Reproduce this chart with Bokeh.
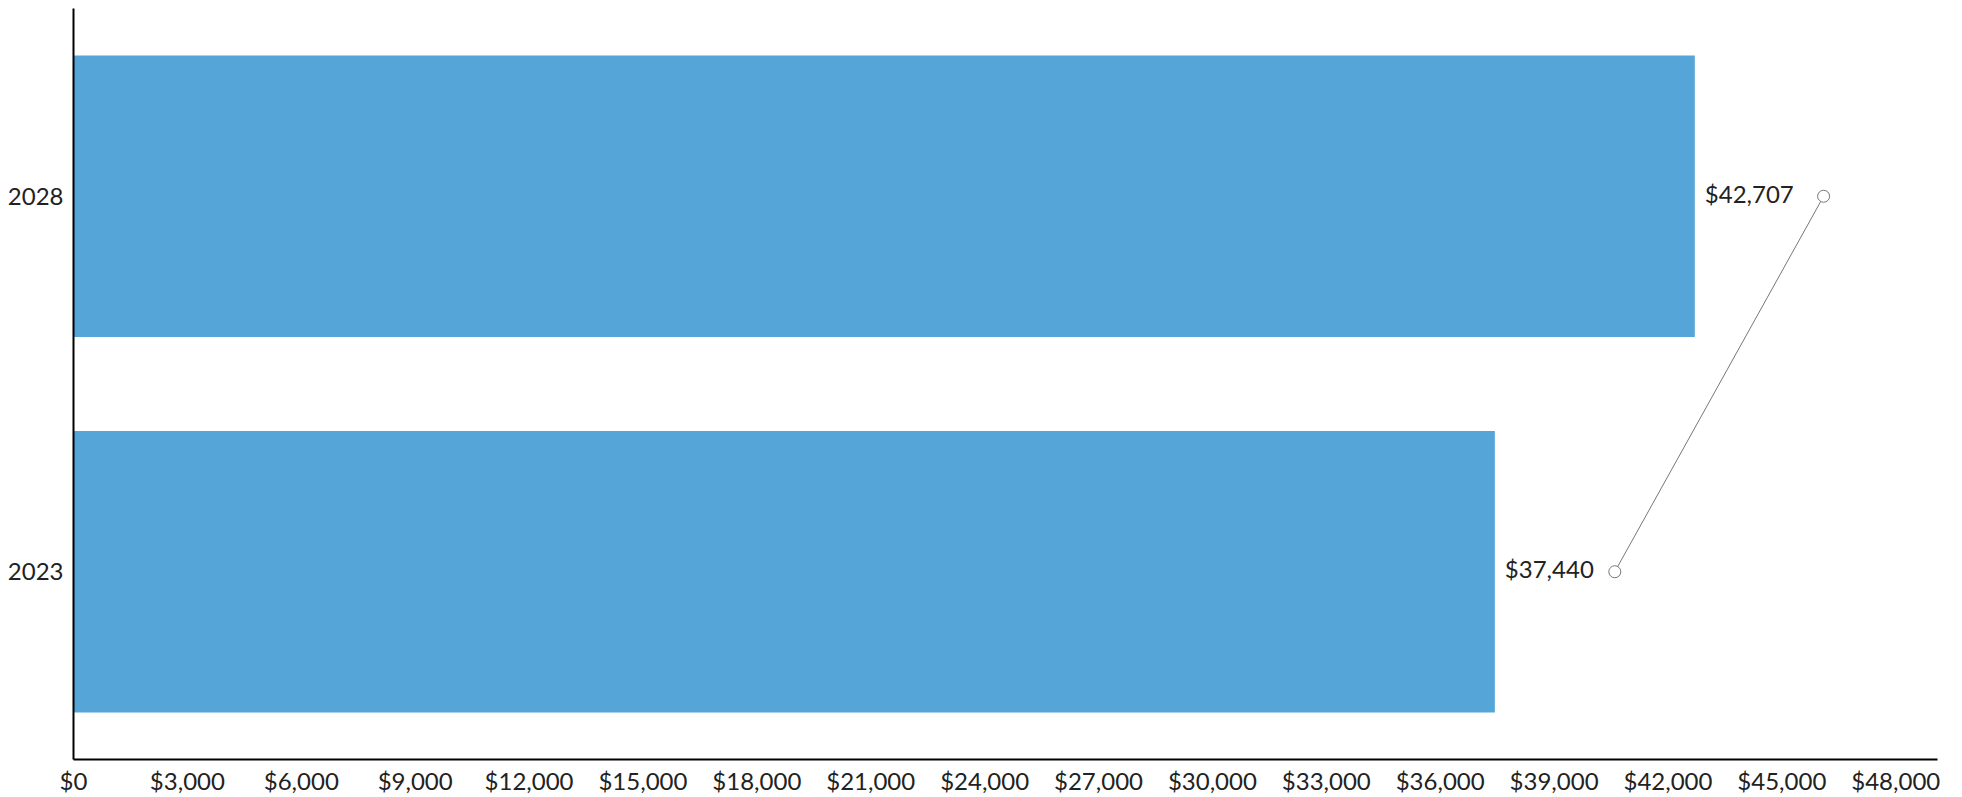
from bokeh.plotting import figure
from bokeh.models import Range1d, FactorRange, NumeralTickFormatter, FixedTicker, ColumnDataSource
from bokeh.core.properties import value
from bokeh.embed import file_html
from bokeh.resources import INLINE

years = ["2023", "2028"]
values = [37440, 42707]
labels = ["$37,440", "$42,707"]
connector_x = [40600, 46100]
x_ticks = [0, 3000, 6000, 9000, 12000, 15000, 18000, 21000, 24000, 27000, 30000, 33000, 36000, 39000, 42000, 45000, 48000]
x_max = 49100

FONT = "Lato"
TXT = "#222222"

p = figure(width=1954, height=797, output_backend="svg", toolbar_location=None,
           x_range=Range1d(0, x_max), y_range=FactorRange(factors=years, range_padding=0),
           min_border_left=73, min_border_right=17, min_border_top=8, min_border_bottom=0)
p.outline_line_color = None
p.grid.grid_line_color = None

src = ColumnDataSource(dict(y=years, v=values, lab=labels, cx=connector_x))
p.hbar(y="y", right="v", left=0, height=0.75, source=src, fill_color="#55A5D8", line_color=None)
p.text(x="v", y="y", text="lab", source=src, x_offset=10, y_offset=-3, text_align="left", text_baseline="middle",
       text_font=value(FONT), text_font_size="24px", text_color=TXT)
p.line(x="cx", y="y", source=src, line_color="#777777", line_width=1)
p.scatter(x="cx", y="y", source=src, size=12, marker="circle", fill_color="white", line_color="#777777", line_width=1)

for ax in (p.xaxis[0], p.yaxis[0]):
    ax.axis_line_color = "black"
    ax.axis_line_width = 2
    ax.major_tick_line_color = None
    ax.minor_tick_line_color = None
    ax.major_tick_out = 0
    ax.major_tick_in = 0
    ax.major_label_text_font = FONT
    ax.major_label_text_font_size = "24px"
    ax.major_label_text_color = TXT

p.xaxis.ticker = FixedTicker(ticks=x_ticks)
p.xaxis.formatter = NumeralTickFormatter(format="$0,0")
p.xaxis.major_label_standoff = 6
p.yaxis.major_label_standoff = 10

open("out.html", "w").write(file_html(p, INLINE))
